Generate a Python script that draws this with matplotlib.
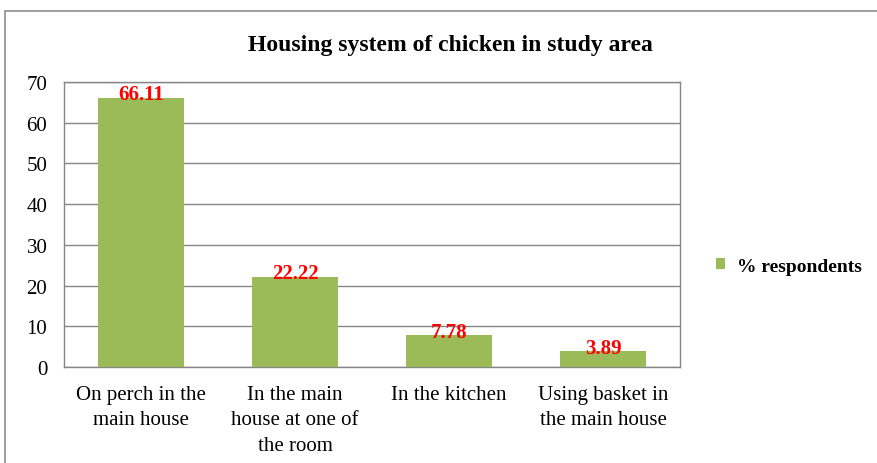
import matplotlib.pyplot as plt
from matplotlib.patches import Rectangle

categories = ['On perch in the\nmain house', 'In the main\nhouse at one of\nthe room',
              'In the kitchen', 'Using basket in\nthe main house']
values = [66.11, 22.22, 7.78, 3.89]
y_ticks = [0, 10, 20, 30, 40, 50, 60, 70]

plt.rcParams['font.family'] = ['Liberation Serif', 'DejaVu Serif']

fig = plt.figure(figsize=(8.77, 4.64), dpi=100)
ax = fig.add_axes([64 / 877, 1 - 368 / 464, 616 / 877, 285 / 464])

# outer chart border
fig.patches.append(Rectangle((5 / 877, -0.01), 1.0, 1 - 12 / 464 + 0.01,
                             transform=fig.transFigure, fill=False,
                             edgecolor='#8c8c8c', linewidth=1.2))

x = range(len(categories))
bars = ax.bar(x, values, width=0.56, color='#9BBB59', zorder=3,
              label='% respondents')
for b, v in zip(bars, values):
    ax.text(b.get_x() + b.get_width() / 2, v - 1.6, f'{v:.2f}',
            ha='center', va='bottom', color='red', fontsize=15,
            fontweight='bold', zorder=4)

ax.set_xlim(-0.5, len(categories) - 0.5)
ax.set_ylim(0, 70)
ax.set_yticks(y_ticks)
ax.set_xticks(list(x))
ax.set_xticklabels(categories, fontsize=15, linespacing=1.45)
ax.tick_params(axis='y', labelsize=15, length=0, pad=12)
ax.tick_params(axis='x', length=0, pad=13)
ax.yaxis.grid(True, color='#868686', linewidth=1, zorder=0)
for s in ax.spines.values():
    s.set_color('#868686')
    s.set_linewidth(1)

fig.text(450 / 877, 1 - 45 / 464,
         'Housing system of chicken in study area', ha='center',
         va='center', fontsize=17, fontweight='bold')

leg = fig.legend(handles=[bars], labels=['% respondents'],
                 loc='center left', bbox_to_anchor=(698 / 877, 1 - 267 / 464),
                 frameon=False, handlelength=0.5, handleheight=0.5,
                 handletextpad=0.6, prop={'weight': 'bold', 'size': 14})

fig.savefig('out.png', dpi=100)
